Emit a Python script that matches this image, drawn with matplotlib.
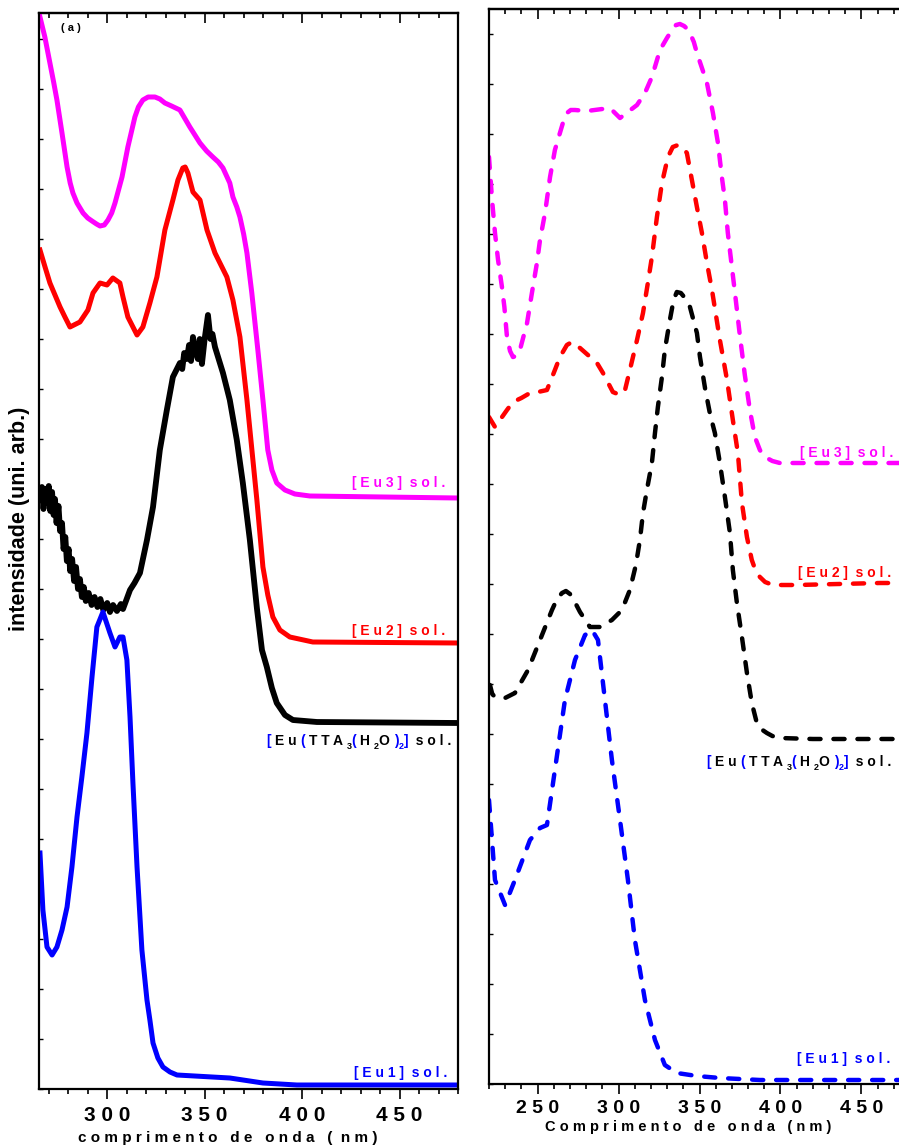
import matplotlib
matplotlib.use("Agg")
import matplotlib.pyplot as plt
from matplotlib.ticker import MultipleLocator

plt.rcParams['font.family'] = ['Liberation Sans', 'DejaVu Sans']

# ---------------- dados (a): espectros sólidos ----------------
eu3_nm = [265, 268, 270.6, 272.5, 274.2, 276.8, 279.4, 281, 282.4, 284.5, 287.6, 290, 292.2,
          294.5, 296.3, 298.5, 300.4, 302.3, 304, 307.6, 310.6, 314.2, 316, 318.3, 321, 324.5,
          327, 329.6, 333, 337.3, 340, 342.4, 345, 347.6, 351, 354.2, 357, 359.4, 362.9, 364.5,
          366.5, 368.1, 370, 371.7, 374.2, 377.3, 379.9, 382.4, 384.5, 387, 391.2, 396.3, 404,
          480]
eu3_int = [10.76, 10.52, 10.26, 10.07, 9.89, 9.56, 9.22, 9.06, 8.96, 8.86, 8.76, 8.71, 8.68,
           8.65, 8.63, 8.64, 8.69, 8.76, 8.86, 9.12, 9.42, 9.72, 9.82, 9.89, 9.92, 9.92,
           9.90, 9.86, 9.83, 9.79, 9.70, 9.62, 9.54, 9.46, 9.38, 9.32, 9.27, 9.21, 9.06, 8.92,
           8.82, 8.72, 8.55, 8.36, 7.96, 7.39, 6.89, 6.39, 6.19, 6.06, 5.99, 5.95, 5.93,
           5.91]

eu2_nm = [265.5, 268.1, 270.6, 275.8, 278.3, 280.9, 286, 290.1, 292.7, 296.3, 299.9, 302.9, 306.5,
          308.1, 310.6, 315.3, 318.3, 321.9, 325.5, 329.6, 333.7, 336.3, 338.8, 340, 341.4, 344,
          347.6, 351.2, 355.3, 361.4, 364.5, 368.1, 371.7, 376.8, 379.9, 382.4, 385, 388.6,
          393.7, 405.5, 480]
eu2_int = [8.39, 8.22, 8.06, 7.82, 7.72, 7.62, 7.67, 7.79, 7.96, 8.06, 8.04, 8.11, 8.06,
           7.92, 7.72, 7.54, 7.62, 7.86, 8.12, 8.59, 8.89, 9.09, 9.21, 9.22, 9.16, 8.97,
           8.89, 8.59, 8.36, 8.12, 7.89, 7.52, 6.89, 5.89, 5.22, 4.94, 4.72, 4.59,
           4.52, 4.47, 4.46]

tta_nm = [265.5, 266.5, 267.3, 268.2, 269.1, 270.0, 270.8, 271.7, 272.5, 273.2, 274.0, 275.0,
          275.8, 276.8, 277.6, 278.5, 279.3, 280.2, 281.0, 282.0, 283.0, 284.0, 285.0, 286.0,
          287.0, 288.0, 289.0, 290.5, 292.0, 293.5, 295.0, 296.5, 298.0, 300.0, 301.4, 303.0,
          305.0, 307.0, 308.1, 310.0, 311.7, 314.0, 316.8, 320.4, 323.5, 327.0, 330.6, 333.7,
          337.3, 338.5, 339.5, 340.9, 342.0, 343.0, 344.0, 345.0, 346.5, 347.5, 348.6, 350.0,
          351.7, 353.0, 354.0, 355.3, 359.4, 362.9, 366.5, 369.6, 373.2, 376.8, 379.4, 381.9,
          384.5, 387.0, 391.2, 395.3, 407.6, 480]
tta_int = [5.89, 6.02, 5.80, 6.00, 5.86, 6.03, 5.78, 5.97, 5.74, 5.90, 5.66, 5.83,
           5.58, 5.66, 5.40, 5.52, 5.28, 5.40, 5.18, 5.30, 5.08, 5.22, 5.00, 5.10,
           4.92, 5.02, 4.88, 4.96, 4.84, 4.92, 4.82, 4.90, 4.79, 4.86, 4.77, 4.84,
           4.78, 4.85, 4.80, 4.90, 4.99, 5.06, 5.16, 5.49, 5.82, 6.39, 6.79, 7.12,
           7.26, 7.20, 7.36, 7.30, 7.44, 7.28, 7.52, 7.40, 7.30, 7.50, 7.25, 7.50,
           7.74, 7.50, 7.55, 7.42, 7.16, 6.89, 6.49, 6.06, 5.49, 4.81, 4.39, 4.22,
           4.01, 3.86, 3.74, 3.69, 3.67, 3.66]

eu1_nm = [265.5, 267, 269.1, 271.7, 274.2, 276.8, 279.4, 281.9, 284.5, 287, 289.6, 292.2, 294.7,
          297.8, 301.4, 304, 306.5, 308.1, 310.1, 311.7, 313.2, 315.3, 317.8, 320.4, 321.9,
          323.5, 326, 328.6, 332.2, 335.8, 362.9, 379.9, 397.3, 480]
eu1_int = [2.36, 1.79, 1.42, 1.34, 1.42, 1.59, 1.82, 2.22, 2.72, 3.12, 3.56, 4.12, 4.62,
           4.77, 4.56, 4.42, 4.52, 4.52, 4.29, 3.72, 3.06, 2.22, 1.39, 0.89, 0.69,
           0.46, 0.31, 0.22, 0.17, 0.14, 0.11, 0.06, 0.04, 0.04]

# ---------------- dados (b): espectros tracejados ----------------
eu3b_nm = [220, 221.9, 223.7, 225.6, 228, 229.5, 231.1, 233, 234.8, 237, 239.1, 243.5, 246.5,
           249.6, 251.5, 254.6, 257.7, 260.7, 263.8, 266, 268.1, 270.5, 273.1, 280.5, 294.7,
           300.9, 311.4, 316.3, 320.6, 325.6, 329.9, 333, 335.5, 337.9, 340.5, 342.5, 344.1,
           346.5, 348.4, 354.6, 358.3, 361.4, 363.8, 365.7, 367.5, 370, 371.9, 374.9, 378,
           381.1, 384.2, 387.3, 389.5, 391.6, 395, 399.6, 424.3, 480]
eu3b_int = [9.27, 8.84, 8.51, 8.24, 7.97, 7.77, 7.47, 7.33, 7.27, 7.28, 7.34, 7.61, 7.91,
            8.21, 8.44, 8.71, 9.07, 9.34, 9.51, 9.63, 9.71, 9.74, 9.74, 9.73, 9.76,
            9.66, 9.79, 9.91, 10.07, 10.34, 10.46, 10.54, 10.59, 10.60, 10.58, 10.55, 10.51,
            10.42, 10.31, 10.01, 9.71, 9.41, 9.07, 8.84, 8.51, 8.17, 7.91, 7.49, 7.09,
            6.74, 6.47, 6.34, 6.28, 6.26, 6.23, 6.21, 6.21, 6.21]

eu2b_nm = [220, 223.7, 231.1, 234.8, 240, 245.3, 250.2, 255.8, 260.7, 263.8, 268.1, 271.2, 276.2,
           286.7, 290.4, 296.5, 300.9, 304, 307, 311.4, 315.1, 318.1, 320.6, 323.7, 326.8,
           330.5, 333.5, 336.7, 339.5, 342.2, 345.3, 348.4, 351.5, 354.6, 357.7, 362.6, 367,
           370.6, 373.7, 376.2, 379.3, 382.3, 384.5, 387.3, 390.5, 395.3, 410.1, 461.4, 480]
eu2b_int = [6.67, 6.57, 6.74, 6.82, 6.86, 6.91, 6.92, 6.94, 7.14, 7.27, 7.39, 7.42, 7.36,
            7.21, 7.11, 6.92, 6.89, 6.94, 7.14, 7.44, 7.71, 8.01, 8.27, 8.67, 9.01,
            9.27, 9.37, 9.39, 9.37, 9.31, 9.04, 8.77, 8.51, 8.21, 7.94, 7.44, 7.04,
            6.64, 6.31, 5.81, 5.47, 5.24, 5.14, 5.07, 5.02, 4.99, 4.99, 5.01, 5.01]

ttab_nm = [220.6, 222, 223.7, 229.9, 236, 244.1, 251.5, 258.9, 262, 265.1, 267.5, 270, 273,
           276.2, 282.3, 288.5, 295.9, 302.1, 307, 310.7, 313.2, 315.1, 317.5, 320.6, 322.5,
           324.3, 326.8, 328.6, 331.7, 334, 336, 338.5, 341, 344.1, 348.4, 350.3, 353.5, 356.5,
           359.5, 362.6, 365.7, 368.8, 370.6, 373.1, 376.2, 379.3, 382.3, 385.4, 388, 391.6,
           395, 399.6, 420, 480]
ttab_int = [3.99, 3.90, 3.87, 3.86, 3.91, 4.14, 4.44, 4.74, 4.85, 4.91, 4.93, 4.90, 4.82,
            4.72, 4.57, 4.57, 4.64, 4.74, 4.94, 5.19, 5.44, 5.71, 5.94, 6.21, 6.51,
            6.77, 7.07, 7.34, 7.64, 7.84, 7.92, 7.91, 7.86, 7.77, 7.51, 7.27, 6.95, 6.70,
            6.51, 6.21, 5.87, 5.51, 5.14, 4.81, 4.47, 4.11, 3.81, 3.61, 3.55, 3.51,
            3.48, 3.46, 3.45, 3.45]

eu1b_nm = [220, 223.7, 229.9, 236, 245.3, 251.5, 255.8, 260.7, 266.9, 273.1, 279.3, 283.6, 287.3,
           291.6, 295.9, 300.9, 305.8, 310.1, 316.3, 322.5, 328.6, 336, 348.4, 362.6, 387.3, 480]
eu1b_int = [2.84, 2.04, 1.79, 2.04, 2.44, 2.56, 2.59, 3.14, 3.84, 4.24, 4.49, 4.54, 4.44,
            3.84, 3.24, 2.64, 2.04, 1.44, 0.84, 0.44, 0.19, 0.11, 0.08, 0.06, 0.04, 0.04]

left_ticks = [300, 350, 400, 450]
left_ticklabels = ['3 0 0', '3 5 0', '4 0 0', '4 5 0']
right_ticks = [250, 300, 350, 400, 450]
right_ticklabels = ['2 5 0', '3 0 0', '3 5 0', '4 0 0', '4 5 0']

MAG, RED, BLK, BLU = '#FF00FF', '#FF0000', '#000000', '#0000FF'

W, H = 899, 1146
fig = plt.figure(figsize=(W / 100, H / 100), dpi=100)


def fx(px):
    return px / W


def fy(py):
    return 1 - py / H


def colored_label(ax, x, y, pieces, size):
    """Texto multicolorido, peça por peça (com subscritos)."""
    base = fig.text(x, y, pieces[0][0], color=pieces[0][1], fontsize=size,
                    fontweight='bold', ha='left', va='baseline')
    prev = base
    for s, c, sub in pieces[1:]:
        if sub:
            prev = ax.annotate(s, xy=(1, 0), xycoords=(prev, base), xytext=(0, -2.5),
                               textcoords='offset points', color=c, fontsize=size * 0.65,
                               fontweight='bold', ha='left', va='bottom')
        else:
            prev = ax.annotate(s, xy=(1, 0), xycoords=(prev, base), color=c, fontsize=size,
                               fontweight='bold', ha='left', va='bottom')


tta_pieces = [('[ ', BLU, False), ('E u ', BLK, False), ('( ', BLU, False), ('T T A ', BLK, False),
              ('3', BLK, True), ('( ', BLU, False), ('H ', BLK, False), ('2', BLK, True),
              ('O ', BLK, False), (')', BLU, False), ('2', BLU, True), (']', BLU, False),
              ('  s o l .', BLK, False)]

# ---------------- painel esquerdo ----------------
ax1 = fig.add_axes([fx(39), 1 - 1089 / H, fx(419), 1076 / H])
ax1.plot(eu3_nm, eu3_int, color=MAG, lw=3.6, solid_joinstyle='round')
ax1.plot(eu2_nm, eu2_int, color=RED, lw=3.6, solid_joinstyle='round')
ax1.plot(tta_nm, tta_int, color=BLK, lw=4.2, solid_joinstyle='round')
ax1.plot(eu1_nm, eu1_int, color=BLU, lw=3.6, solid_joinstyle='round')
ax1.set_xlim(265, 480)
ax1.set_ylim(0, 10.76)
ax1.set_xticks(left_ticks, left_ticklabels)
ax1.xaxis.set_minor_locator(MultipleLocator(10))
ax1.tick_params(axis='x', which='major', direction='out', length=7.5, width=1.2, pad=4.5,
                labelsize=15)
ax1.tick_params(axis='x', which='minor', direction='out', length=3.8, width=1.2)
for lab in ax1.get_xticklabels():
    lab.set_fontweight('bold')
ax1.yaxis.set_major_locator(MultipleLocator(0.5))
ax1.tick_params(axis='y', direction='in', length=3, width=1, labelleft=False)
top1 = ax1.secondary_xaxis('top')
top1.set_xticks(left_ticks)
top1.xaxis.set_minor_locator(MultipleLocator(10))
top1.tick_params(which='major', direction='in', length=7.5, width=1.2, labeltop=False)
top1.tick_params(which='minor', direction='in', length=3.8, width=1.2)
for sp in ax1.spines.values():
    sp.set_linewidth(1.6)
top1.spines['top'].set_linewidth(1.6)

# ---------------- painel direito ----------------
ax2 = fig.add_axes([fx(489), 1 - 1084 / H, fx(421), 1075 / H])
dash = (0, (2.5, 2.9))
for xs, ys, c in [(eu3b_nm, eu3b_int, MAG), (eu2b_nm, eu2b_int, RED),
                  (ttab_nm, ttab_int, BLK), (eu1b_nm, eu1b_int, BLU)]:
    ax2.plot(xs, ys, color=c, lw=3.2, ls=dash, dash_capstyle='round', dash_joinstyle='round')
ax2.set_xlim(220, 480)
ax2.set_ylim(0, 10.75)
ax2.set_xticks(right_ticks, right_ticklabels)
ax2.xaxis.set_minor_locator(MultipleLocator(10))
ax2.tick_params(axis='x', which='major', direction='out', length=7.5, width=1.2, pad=4,
                labelsize=14)
ax2.tick_params(axis='x', which='minor', direction='out', length=3.8, width=1.2)
for lab in ax2.get_xticklabels():
    lab.set_fontweight('bold')
ax2.yaxis.set_major_locator(MultipleLocator(0.5))
ax2.tick_params(axis='y', direction='in', length=3, width=1, labelleft=False)
top2 = ax2.secondary_xaxis('top')
top2.set_xticks(right_ticks)
top2.xaxis.set_minor_locator(MultipleLocator(10))
top2.tick_params(which='major', direction='in', length=7.5, width=1.2, labeltop=False)
top2.tick_params(which='minor', direction='in', length=3.8, width=1.2)
ax2.spines['right'].set_visible(False)
for sp in ax2.spines.values():
    sp.set_linewidth(1.6)
top2.spines['top'].set_linewidth(1.6)

# ---------------- textos ----------------
fig.text(fx(20), fy(519), 'intensidade (uni. arb.)', rotation=90, ha='center', va='center',
         fontsize=15.5, fontweight='bold')
fig.text(fx(71), fy(28), '( a )', ha='center', va='center', fontsize=8, fontweight='bold')
fig.text(fx(228), fy(1138), 'c o m p r i m e n t o   d e   o n d a   (  n m )', ha='center',
         va='center', fontsize=11, fontweight='bold')
fig.text(fx(688), fy(1127), 'C o m p r i m e n t o   d e   o n d a   ( n m )', ha='center',
         va='center', fontsize=10.5, fontweight='bold')

lab_kw = dict(ha='right', va='baseline', fontsize=10, fontweight='bold')
fig.text(fx(445), fy(487), '[ E u 3 ]  s o l .', color=MAG, **lab_kw)
fig.text(fx(445), fy(635), '[ E u 2 ]  s o l .', color=RED, **lab_kw)
fig.text(fx(447), fy(1077), '[ E u 1 ]  s o l .', color=BLU, **lab_kw)
colored_label(ax1, fx(267), fy(745), tta_pieces, 10)

fig.text(fx(893), fy(457), '[ E u 3 ]  s o l .', color=MAG, **lab_kw)
fig.text(fx(891), fy(577), '[ E u 2 ]  s o l .', color=RED, **lab_kw)
fig.text(fx(890), fy(1063), '[ E u 1 ]  s o l .', color=BLU, **lab_kw)
colored_label(ax2, fx(707), fy(766), tta_pieces, 10)

fig.savefig('out.png', dpi=100)
